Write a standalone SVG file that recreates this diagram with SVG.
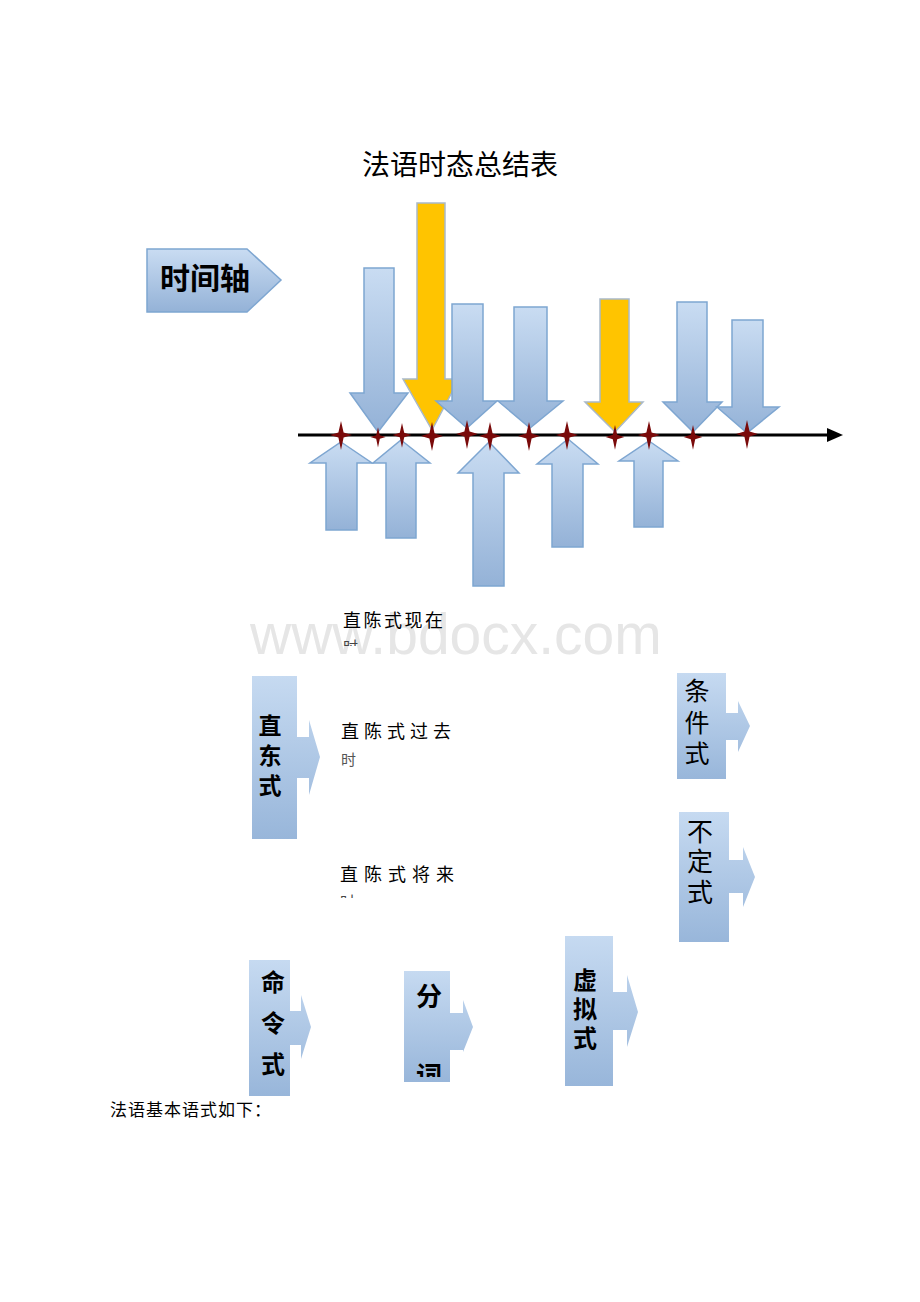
<svg xmlns="http://www.w3.org/2000/svg" width="920" height="1302" viewBox="0 0 920 1302">
<defs>
<linearGradient id="gb" x1="0" y1="0" x2="0" y2="1">
<stop offset="0" stop-color="#c9dcf2"/>
<stop offset="1" stop-color="#94b2d7"/>
</linearGradient>
<linearGradient id="gb2" x1="0" y1="0" x2="0" y2="1">
<stop offset="0" stop-color="#c6daf1"/>
<stop offset="1" stop-color="#98b6da"/>
</linearGradient>
<clipPath id="c1"><rect x="330" y="634" width="60" height="12"/></clipPath>
<clipPath id="c2"><rect x="330" y="888" width="60" height="10"/></clipPath>
<clipPath id="c3"><rect x="404" y="1060" width="46" height="17"/></clipPath>
<path id="star" d="M0,-14 L2.6,-2.6 L11,0 L2.6,2.6 L0,15 L-2.6,2.6 L-11,0 L-2.6,-2.6 Z"/>
<style>
.cjk{font-family:"Noto Sans CJK SC","Noto Sans",sans-serif;}
.ta{fill:url(#gb);stroke:#7ea6d1;stroke-width:1.5;}
.ty{fill:#ffc400;stroke:#a9b9c9;stroke-width:1.5;}
.blk{fill:url(#gb2);}
.st{fill:#7a0a0a;}
.v{font-family:"Noto Sans CJK SC","Noto Sans",sans-serif;writing-mode:vertical-rl;fill:#000;}
</style>
</defs>
<rect width="920" height="1302" fill="#ffffff"/>

<text x="460" y="175" class="cjk" font-size="28" text-anchor="middle" fill="#000">法语时态总结表</text>

<g id="axis-label">
<path d="M147,249 H247 L281,280 L247,312 H147 Z" fill="url(#gb)" stroke="#7ea6d1" stroke-width="1.5"/>
<text x="160" y="289" class="cjk" font-size="30" font-weight="bold" fill="#000">时间轴</text>
</g>

<g id="down-arrows">
<path id="d1" class="ta" d="M364,268 H394 V393 H408 L378,432 L350,393 H364 Z"/>
<path id="d2" class="ty" d="M417,203 H445 V379 H459 L432,430 L403,379 H417 Z"/>
<path id="d3" class="ta" d="M452,304 H483 V401 H497 L467,428 L436,401 H452 Z"/>
<path id="d4" class="ta" d="M514,307 H547 V401 H563 L530,428 L498,401 H514 Z"/>
<path id="d5" class="ty" d="M600,299 H629 V402 H643 L615,432 L585,402 H600 Z"/>
<path id="d6" class="ta" d="M677,302 H707 V402 H722 L693,432 L663,402 H677 Z"/>
<path id="d7" class="ta" d="M732,320 H763 V407 H779 L747,433 L717,407 H732 Z"/>
</g>

<g id="up-arrows">
<path id="u1" class="ta" d="M341,442 L372,463 H357 V530 H326 V463 H310 Z"/>
<path id="u2" class="ta" d="M401,440 L430,463 H416 V538 H386 V463 H373 Z"/>
<path id="u3" class="ta" d="M489,442 L519,473 H504 V586 H473 V473 H458 Z"/>
<path id="u4" class="ta" d="M568,439 L598,464 H583 V547 H552 V464 H537 Z"/>
<path id="u5" class="ta" d="M649,441 L678,461 H663 V527 H634 V461 H619 Z"/>
</g>

<g id="connectors">
<line x1="298" y1="435" x2="830" y2="435" stroke="#000" stroke-width="3"/>
<polygon points="827,428 843,435 827,442" fill="#000"/>
</g>

<g id="stars">
<use href="#star" class="st" transform="translate(341,435)"/>
<use href="#star" class="st" transform="translate(378,437) scale(0.7)"/>
<use href="#star" class="st" transform="translate(402,435) scale(0.85)"/>
<use href="#star" class="st" transform="translate(432,436)"/>
<use href="#star" class="st" transform="translate(467,434)"/>
<use href="#star" class="st" transform="translate(490,436)"/>
<use href="#star" class="st" transform="translate(529,436)"/>
<use href="#star" class="st" transform="translate(567,435)"/>
<use href="#star" class="st" transform="translate(615,437) scale(0.85)"/>
<use href="#star" class="st" transform="translate(649,435)"/>
<use href="#star" class="st" transform="translate(693,437) scale(0.85)"/>
<use href="#star" class="st" transform="translate(747,434)"/>
</g>

<text x="250" y="654" font-family="Liberation Sans, Arial, sans-serif" font-size="57" fill="#e6e6e6">www.bdocx.com</text>

<g id="indicatif-texts">
<text x="343" y="627" class="cjk" font-size="18" letter-spacing="2.5" fill="#000">直陈式现在</text>
<text x="343" y="652" class="cjk" font-size="15" fill="#444" clip-path="url(#c1)">时</text>
<text x="341" y="738" class="cjk" font-size="18" letter-spacing="5" fill="#000">直陈式过去</text>
<text x="341" y="765" class="cjk" font-size="15" fill="#555">时</text>
<text x="340" y="881" class="cjk" font-size="18" letter-spacing="6" fill="#000">直陈式将来</text>
<text x="340" y="907" class="cjk" font-size="15" fill="#444" clip-path="url(#c2)">时</text>
</g>

<g id="indicatif">
<path class="blk" d="M252,676 H297 V737 H309 V720 L320,757 L309,795 V778 H297 V839 H252 Z"/>
<text class="v" x="270" y="714" font-size="23" font-weight="bold" letter-spacing="7">直东式</text>
</g>

<g id="conditionnel">
<path class="blk" d="M677,673 H726 V713 H738 V701 L750,726 L738,752 V740 H726 V779 H677 Z"/>
<text class="v" x="697" y="678" font-size="25" letter-spacing="6.5">条件式</text>
</g>

<g id="infinitif">
<path class="blk" d="M679,812 H729 V860 H743 V847 L755,877 L743,907 V893 H729 V942 H679 Z"/>
<text class="v" x="700" y="818" font-size="26" letter-spacing="4.5">不定式</text>
</g>

<g id="imperatif">
<path class="blk" d="M249,960 H290 V1011 H301 V995 L311,1027 L301,1059 V1045 H290 V1096 H249 Z"/>
<text class="v" x="273" y="970" font-size="24" font-weight="bold" letter-spacing="17">命令式</text>
</g>

<g id="participe">
<path class="blk" d="M404,971 H450 V1013 H463 V1000 L473,1027 L463,1052 V1050 H450 V1082 H404 Z"/>
<text x="429" y="1006" class="cjk" font-size="26" font-weight="bold" text-anchor="middle" fill="#000">分</text>
<text x="429" y="1085" class="cjk" font-size="26" font-weight="bold" text-anchor="middle" fill="#000" clip-path="url(#c3)">词</text>
</g>

<g id="subjonctif">
<path class="blk" d="M565,936 H613 V992 H627 V975 L638,1012 L627,1047 V1030 H613 V1086 H565 Z"/>
<text class="v" x="585" y="968" font-size="24" font-weight="bold" letter-spacing="5">虚拟式</text>
</g>

<text x="110" y="1116" class="cjk" font-size="17" letter-spacing="1" fill="#000">法语基本语式如下：</text>
</svg>
